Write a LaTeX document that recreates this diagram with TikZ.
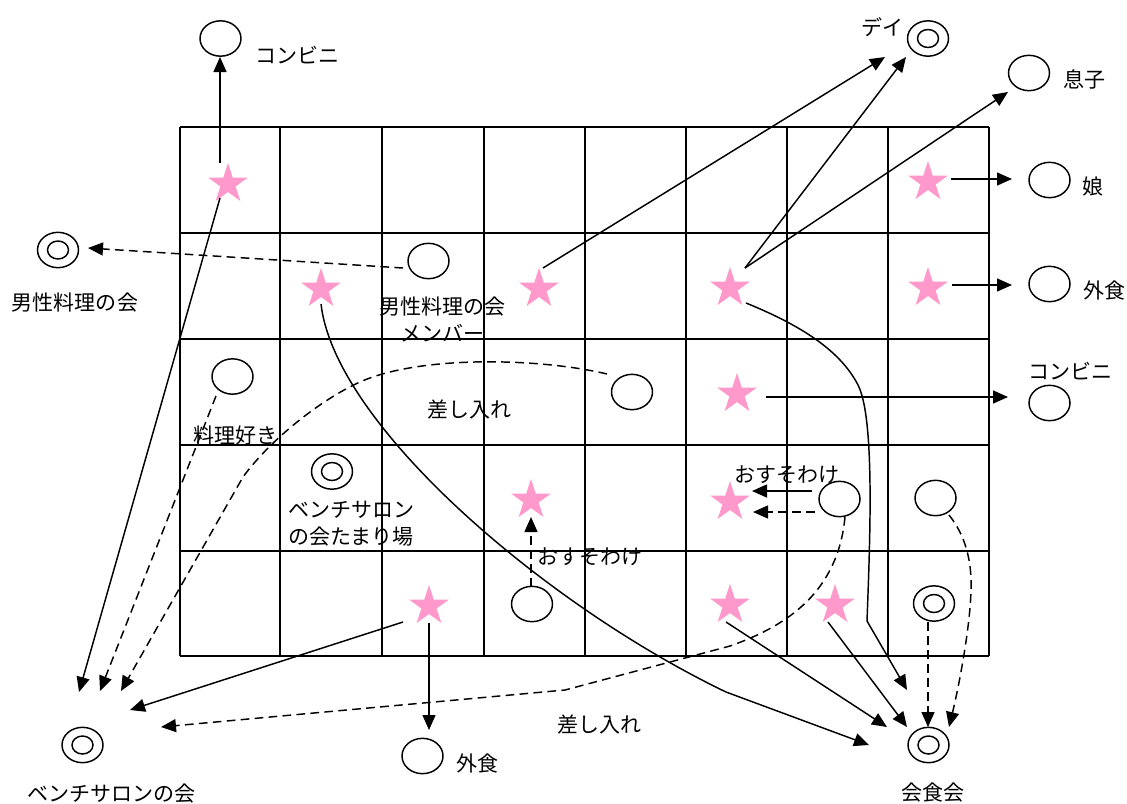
\documentclass[tikz,border=0pt]{standalone}
\usepackage{fontspec}
\setmainfont{Noto Sans CJK JP}
\usetikzlibrary{arrows.meta,shapes.geometric}
\definecolor{starpink}{RGB}{255,153,204}
\begin{document}
\begin{tikzpicture}[x=0.75pt,y=-0.75pt,
  every node/.style={font=\fontsize{15.75pt}{20.25pt}\selectfont, inner sep=0pt, outer sep=0pt},
  ln/.style={line width=1.1pt},
  arr/.style={ln, -{Triangle[length=11.25pt,width=9.75pt]}},
  darr/.style={arr, dash pattern=on 6.5pt off 4pt},
  dln/.style={ln, dash pattern=on 6.5pt off 4pt},
  ell/.style={ellipse, draw, line width=1.1pt, minimum width=30.75pt, minimum height=26.5pt},
  ellin/.style={ellipse, draw, line width=1.1pt, minimum width=15.75pt, minimum height=13.5pt},
  pstar/.style={star, star points=5, star point ratio=2.618, fill=starpink, draw=none, minimum size=31.5pt},
  lbl/.style={align=center}
]
\useasboundingbox (0,0) rectangle (1127,803);
\fill[white] (0,0) rectangle (1127,803);

% grid
\foreach \x in {180,280,382,484,585,686,787,888,989}
  \draw[ln] (\x,127) -- (\x,656);
\foreach \y in {127,233,339,445,551,656}
  \draw[ln] (180,\y) -- (989,\y);

% stars
\node[pstar] (s1) at (228,184) {};
\node[pstar] (s2) at (321,289) {};
\node[pstar] (s3) at (539,289) {};
\node[pstar] (s4) at (730,288) {};
\node[pstar] (s5) at (928,288) {};
\node[pstar] (s6) at (928,182) {};
\node[pstar] (s7) at (737,394) {};
\node[pstar] (s8) at (730,502) {};
\node[pstar] (s9) at (531,500) {};
\node[pstar] (s10) at (429,606) {};
\node[pstar] (s11) at (730,605) {};
\node[pstar] (s12) at (835,605) {};

% single circles
\node[ell] (cKonbiniT) at (220.5,38.5) {};
\node[ell] (cMusuko) at (1029,73) {};
\node[ell] (cMusume) at (1049.5,180) {};
\node[ell] (cGaiR) at (1049.5,284) {};
\node[ell] (cMember) at (428.5,261) {};
\node[ell] (cRyouri) at (232.5,376.5) {};
\node[ell] (cSashi) at (632,392) {};
\node[ell] (cKonbiniR) at (1049.5,403) {};
\node[ell] (cOsuR) at (839.5,499) {};
\node[ell] (cR4) at (935.5,498) {};
\node[ell] (cOsuC) at (532,604) {};
\node[ell] (cGaiB) at (422.5,756) {};

% double circles
\foreach \n/\p in {dDay/{(928,38.5)}, dDansei/{(58,250)}, dTamari/{(332,471.5)}, dR5/{(934,603.5)}, dBench/{(82.5,745)}, dKai/{(928.5,745)}}{
  \node[ell] (\n) at \p {};
  \node[ellin] at (\n) {};
}

% labels
\node (tKonbiniT) at (297,55) {コンビニ};
\node (tDay) at (882,27) {デイ};
\node (tMusuko) at (1084,79) {息子};
\node (tMusume) at (1093,187) {娘};
\node (tGaiR) at (1104,291) {外食};
\node (tDansei) at (75,303) {男性料理の会};
\node[lbl] (tMember) at (442,319.5) {男性料理の会\\メンバー};
\node (tKonbiniR) at (1070,371) {コンビニ};
\node (tSashiU) at (469,410) {差し入れ};
\node (tRyouri) at (235,436) {料理好き};
\node[lbl] (tTamari) at (351,524) {ベンチサロン\\の会たまり場};
\node (tOsuR) at (787,475) {おすそわけ};
\node (tOsuC) at (590,557) {おすそわけ};
\node (tGaiB) at (477,763) {外食};
\node (tSashiB) at (599,724) {差し入れ};
\node (tBench) at (111,794) {ベンチサロンの会};
\node (tKai) at (933,793) {会食会};

% connector end points
\coordinate (a1) at (220,163);  \coordinate (b1) at (220,57);
\coordinate (a2) at (220,198);  \coordinate (b2) at (79,692);
\coordinate (a3) at (403,268);  \coordinate (b3) at (88,248);
\coordinate (a4) at (321,304);  \coordinate (m4) at (726,692); \coordinate (b4) at (869,745);
\coordinate (a5) at (543,268);  \coordinate (b5) at (885,57);
\coordinate (a6) at (745,268);  \coordinate (b6) at (906,57);
\coordinate (b7) at (1008,92);
\coordinate (a8) at (746,303);  \coordinate (m8) at (867,621); \coordinate (b8) at (907,690);
\coordinate (a9) at (951,179);  \coordinate (b9) at (1012,179);
\coordinate (a10) at (952,285); \coordinate (b10) at (1012,285);
\coordinate (a11) at (607,374); \coordinate (m11) at (243,477); \coordinate (b11) at (121,691);
\coordinate (a12) at (216,396); \coordinate (b12) at (100,691);
\coordinate (a13) at (845,517); \coordinate (m13) at (565,690); \coordinate (b13) at (161,727);
\coordinate (a14) at (812,491); \coordinate (b14) at (752,491);
\coordinate (a15) at (815,512); \coordinate (b15) at (753,512);
\coordinate (a16) at (531,587); \coordinate (b16) at (531,517);
\coordinate (a17) at (766,397); \coordinate (b17) at (1008,397);
\coordinate (a18) at (949,515); \coordinate (b18) at (949,727);
\coordinate (a19) at (928,622); \coordinate (b19) at (928,727);
\coordinate (a20) at (726,622); \coordinate (b20) at (887,727);
\coordinate (a21) at (828,622); \coordinate (b21) at (907,727);
\coordinate (a22) at (403,622); \coordinate (b22) at (130,710);
\coordinate (a23) at (429,623); \coordinate (b23) at (429,730);

% connectors
\draw[arr] (a1) -- (b1);
\draw[arr] (a2) -- (b2);
\draw[darr] (a3) -- (b3);
\draw[arr] (a4) .. controls (335,425) and (545,605) .. (m4) -- (b4);
\draw[arr] (a5) -- (b5);
\draw[arr] (a6) -- (b6);
\draw[arr] (a6) -- (b7);
\draw[arr] (a8) .. controls (800,325) and (840,350) .. (858,385)
  .. controls (875,418) and (870,540) .. (m8) -- (b8);
\draw[arr] (a9) -- (b9);
\draw[arr] (a10) -- (b10);
\draw[darr] (a11) .. controls (540,358) and (420,355) .. (360,382)
  .. controls (320,400) and (270,440) .. (m11) -- (b11);
\draw[darr] (a12) -- (b12);
\draw[darr] (a13) .. controls (838,590) and (790,625) .. (730,646) -- (m13) -- (b13);
\draw[arr] (a14) -- (b14);
\draw[darr] (a15) -- (b15);
\draw[darr] (a16) -- (b16);
\draw[arr] (a17) -- (b17);
\draw[darr] (a18) .. controls (965,535) and (972,560) .. (971,590)
  .. controls (970,630) and (958,690) .. (b18);
\draw[darr] (a19) -- (b19);
\draw[arr] (a20) -- (b20);
\draw[arr] (a21) -- (b21);
\draw[arr] (a22) -- (b22);
\draw[arr] (a23) -- (b23);
\end{tikzpicture}
\end{document}
